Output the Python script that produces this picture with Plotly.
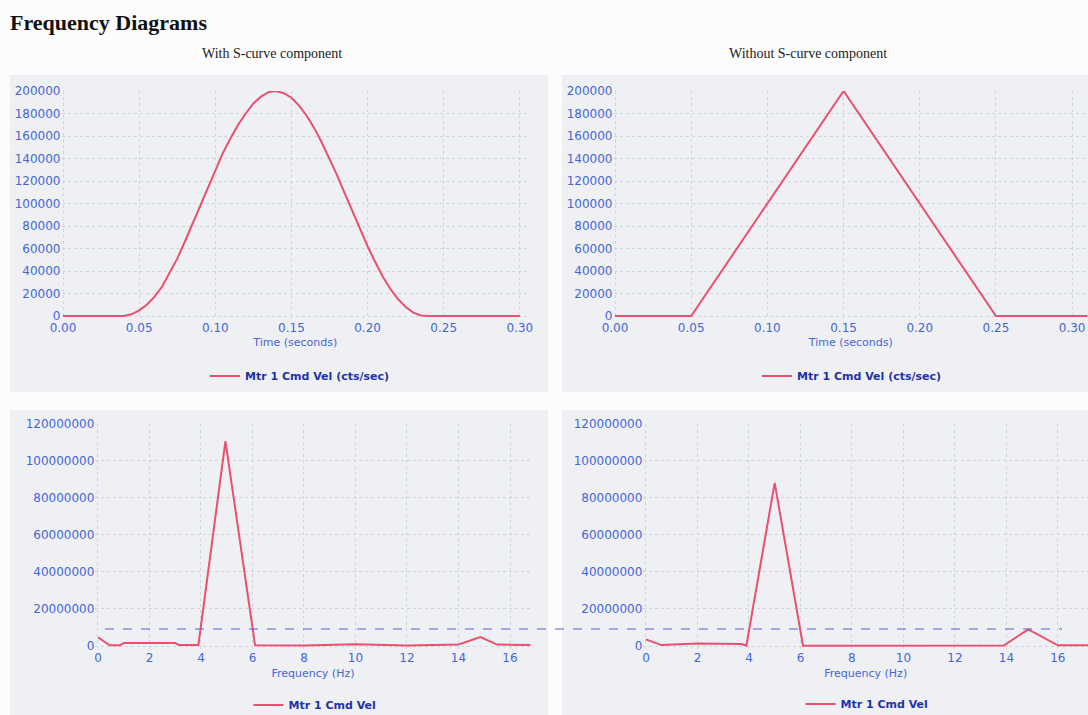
import plotly.graph_objects as go

W, H = 1088, 715

# ---------------- data ----------------
# Top-left: velocity profile with S-curve component
t_s = [0.0, 0.040, 0.045, 0.050, 0.055, 0.060, 0.065, 0.070, 0.075, 0.080, 0.085,
       0.090, 0.095, 0.100, 0.105, 0.110, 0.115, 0.120, 0.125, 0.130, 0.135,
       0.140, 0.145, 0.150, 0.155, 0.160, 0.165, 0.170, 0.175, 0.180, 0.185,
       0.190, 0.195, 0.200, 0.205, 0.210, 0.215, 0.220, 0.225, 0.230, 0.235,
       0.240, 0.300]
v_s = [0, 0, 1500, 5000, 10000, 17000, 26000, 38000, 51000, 66000, 82000,
       98000, 114000, 130000, 145000, 158000, 170000, 180000, 189000, 195000, 199000,
       200000, 198000, 194000, 187000, 178000, 167000, 154000, 140000, 125000, 109000,
       93000, 77000, 62000, 48000, 35000, 24000, 15000, 8000, 3000, 500,
       0, 0]

# Top-right: velocity profile without S-curve component
t_t = [0.0, 0.05, 0.15, 0.25, 0.31]
v_t = [0, 0, 200000, 0, 0]

# Bottom-left: frequency spectrum with S-curve
f_s = [0.0, 0.45, 0.85, 1.0, 3.0, 3.15, 3.9, 4.95, 6.1, 8.0, 10.0, 12.0, 14.0, 14.85, 15.5, 16.8]
a_s = [4.7e6, 0.4e6, 0.4e6, 1.6e6, 1.6e6, 0.5e6, 0.5e6, 110.5e6, 0.4e6, 0.3e6, 1.0e6,
       0.3e6, 0.8e6, 4.8e6, 0.8e6, 0.6e6]

# Bottom-right: frequency spectrum without S-curve
f_t = [0.0, 0.6, 2.0, 3.7, 3.9, 5.0, 6.1, 8.0, 10.0, 12.0, 13.9, 14.85, 16.0, 17.2]
a_t = [3.6e6, 0.5e6, 1.3e6, 1.1e6, 0.2e6, 88e6, 0.2e6, 0.3e6, 0.4e6, 0.2e6, 0.3e6,
       9e6, 0.4e6, 0.4e6]

time_ticks = [0.0, 0.05, 0.10, 0.15, 0.20, 0.25, 0.30]
vel_ticks = [0, 20000, 40000, 60000, 80000, 100000, 120000, 140000, 160000, 180000, 200000]
freq_ticks = [0, 2, 4, 6, 8, 10, 12, 14, 16]
amp_ticks = [0, 20000000, 40000000, 60000000, 80000000, 100000000, 120000000]

legend_top = "Mtr 1 Cmd Vel (cts/sec)"
legend_bot = "Mtr 1 Cmd Vel"
title = "Frequency Diagrams"
sub_left = "With S-curve component"
sub_right = "Without S-curve component"
reference_level_px = 629  # dashed horizontal reference line (screen y)

# ---------------- styling helpers ----------------
LINE = "#e9506f"
TICK = "#4466d6"
LEG = "#1f33a8"
GRID = "#d3d5de"
PANEL = "#eff0f4"
PLOT_BG = "#f5f6f9"

def px(x):
    return x / W

def py(y):
    return 1 - y / H

fig = go.Figure()

fig.add_trace(go.Scatter(x=t_s, y=v_s, mode="lines", name=legend_top,
                         line=dict(color=LINE, width=2), xaxis="x", yaxis="y",
                         legend="legend"))
fig.add_trace(go.Scatter(x=t_t, y=v_t, mode="lines", name=legend_top,
                         line=dict(color=LINE, width=2), xaxis="x2", yaxis="y2",
                         legend="legend2"))
fig.add_trace(go.Scatter(x=f_s, y=a_s, mode="lines", name=legend_bot,
                         line=dict(color=LINE, width=2), xaxis="x3", yaxis="y3",
                         legend="legend3"))
fig.add_trace(go.Scatter(x=f_t, y=a_t, mode="lines", name=legend_bot,
                         line=dict(color=LINE, width=2), xaxis="x4", yaxis="y4",
                         legend="legend4"))

tickfont = dict(family="DejaVu Sans", size=12, color=TICK)
titlefont = dict(family="DejaVu Sans", size=11, color=TICK)

def xax(domain, rng, ticks, fmt, anchor, title_text, standoff):
    return dict(domain=domain, range=rng, tickvals=ticks, tickformat=fmt,
                anchor=anchor, showgrid=True, gridcolor=GRID, griddash="dot",
                zeroline=False, showline=False, ticks="", tickfont=tickfont,
                automargin=False,
                title=dict(text=title_text, font=titlefont, standoff=standoff))

def yax(domain, rng, ticks, anchor):
    return dict(domain=domain, range=rng, tickvals=ticks, tickformat="d",
                anchor=anchor, showgrid=True, gridcolor=GRID, griddash="dot",
                zeroline=False, showline=False, ticks="", tickfont=tickfont,
                automargin=False)

top_dom = [py(319.4), py(91)]
bot_dom = [py(648.8), py(423.5)]

layout = dict(
    width=W, height=H, autosize=False,
    margin=dict(l=0, r=0, t=0, b=0, pad=0, autoexpand=False),
    paper_bgcolor="#fcfcfd", plot_bgcolor=PLOT_BG,
    xaxis=xax([px(61.5), px(529)], [-0.001, 0.306], time_ticks, ".2f", "y", "Time (seconds)", 3),
    yaxis=yax(top_dom, [-3000, 200000], vel_ticks, "x"),
    xaxis2=xax([px(613.5), 1.0], [-0.001, 0.3104], time_ticks, ".2f", "y2", "Time (seconds)", 3),
    yaxis2=yax(top_dom, [-3000, 200000], vel_ticks, "x2"),
    xaxis3=xax([px(95.4), px(530.6)], [-0.1, 16.8], freq_ticks, "d", "y3", "Frequency (Hz)", 5),
    yaxis3=yax(bot_dom, [-1.5e6, 120e6], amp_ticks, "x3"),
    xaxis4=xax([px(643.4), 1.0], [-0.1, 17.17], freq_ticks, "d", "y4", "Frequency (Hz)", 5),
    yaxis4=yax(bot_dom, [-1.5e6, 120e6], amp_ticks, "x4"),
    showlegend=True,
)

legfont = dict(family="DejaVu Sans", size=11, color=LEG, weight="bold")
def leg(xc, yc):
    return dict(x=px(xc), y=py(yc), xanchor="center", yanchor="middle",
                orientation="h", bgcolor="rgba(0,0,0,0)", font=legfont,
                itemwidth=30)

layout["legend"] = leg(300, 376)
layout["legend2"] = leg(852, 376)
layout["legend3"] = leg(315, 705)
layout["legend4"] = leg(867, 704)

fig.update_layout(**layout)

# panel backgrounds
shapes = []
for (x0, y0, x1, y1) in [(10, 75, 548, 392), (562, 75, 1088, 392),
                         (10, 410, 548, 715), (562, 410, 1088, 715)]:
    shapes.append(dict(type="rect", xref="paper", yref="paper",
                       x0=px(x0), x1=px(x1), y0=py(y1), y1=py(y0),
                       fillcolor=PANEL, line=dict(width=0), layer="below"))
# dashed reference line across bottom panels
shapes.append(dict(type="line", xref="paper", yref="paper",
                   x0=px(105), x1=px(1062), y0=py(reference_level_px), y1=py(reference_level_px),
                   line=dict(color="#5c5fd0", width=1, dash="dash")))
fig.update_layout(shapes=shapes)

fig.add_annotation(text="<b>" + title + "</b>", xref="paper", yref="paper",
                   x=px(8), y=py(22), xanchor="left", yanchor="middle", showarrow=False,
                   font=dict(family="Liberation Serif", size=22, color="#111111"))
fig.add_annotation(text=sub_left, xref="paper", yref="paper",
                   x=px(272), y=py(53), xanchor="center", yanchor="middle", showarrow=False,
                   font=dict(family="Liberation Serif", size=14, color="#222222"))
fig.add_annotation(text=sub_right, xref="paper", yref="paper",
                   x=px(808), y=py(53), xanchor="center", yanchor="middle", showarrow=False,
                   font=dict(family="Liberation Serif", size=14, color="#222222"))

fig.write_html("out.html")
